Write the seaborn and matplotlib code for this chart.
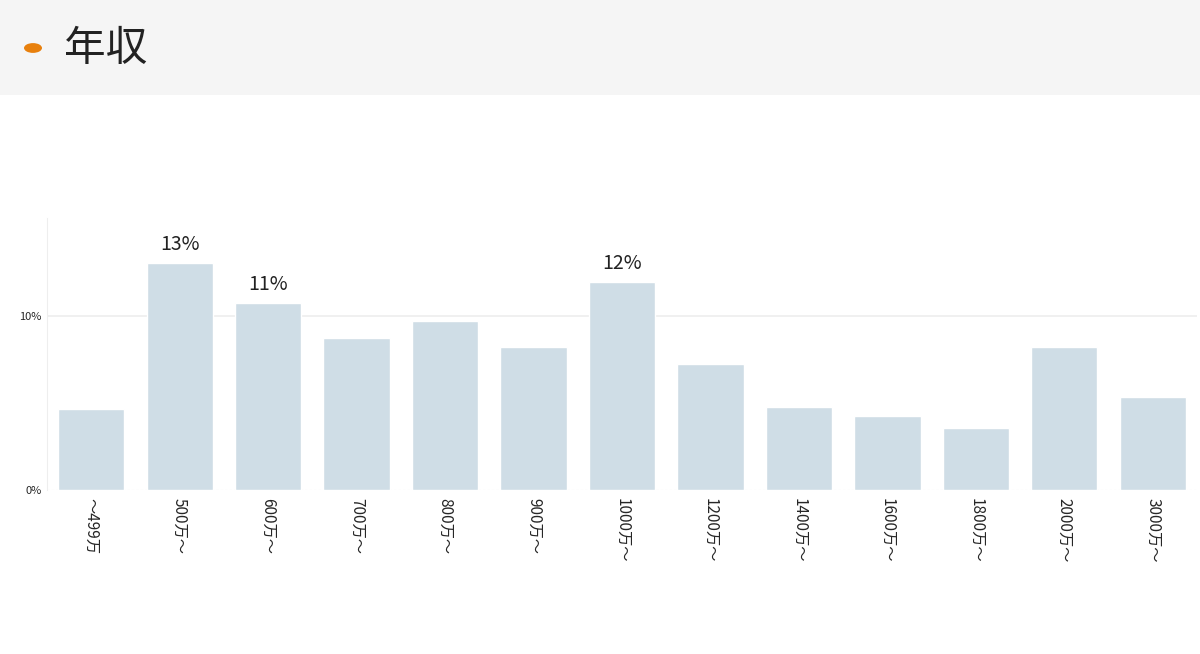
import matplotlib
matplotlib.use("Agg")
import matplotlib.pyplot as plt
import seaborn as sns
import pandas as pd
from matplotlib.patches import Rectangle

categories = ["～499万", "500万～", "600万～", "700万～", "800万～", "900万～", "1000万～",
              "1200万～", "1400万～", "1600万～", "1800万～", "2000万～", "3000万～"]
values = [4.66, 13.0, 10.75, 8.74, 9.71, 8.22, 11.95, 7.24, 4.77, 4.25, 3.56, 8.22, 5.34]
labeled = {"500万～": "13%", "600万～": "11%", "1000万～": "12%"}
yticks = [0, 10]
ytick_labels = ["0%", "10%"]

sns.set_style("white")
plt.rcParams['font.family'] = ['Noto Sans CJK JP', 'DejaVu Sans']

fig = plt.figure(figsize=(12, 6.54), dpi=100)
fig.patches.append(Rectangle((0, 1 - 95 / 654), 1, 95 / 654, transform=fig.transFigure,
                             facecolor="#f5f5f5", edgecolor="none", zorder=0))
fig.patches.append(plt.Circle((33 / 1200, 1 - 48 / 654), 0.0075, transform=fig.transFigure,
                              facecolor="#e8800d", edgecolor="none"))
fig.text(64 / 1200, 1 - 50 / 654, "年収", fontsize=30, va="center", ha="left", color="#222222")

ax = fig.add_axes([47 / 1200, 1 - 490 / 654, 1150 / 1200, 272 / 654])
df = pd.DataFrame({"cat": categories, "val": values})
sns.barplot(data=df, x="cat", y="val", color="#cfdde6", saturation=1, width=0.75, ax=ax, zorder=2)
ax.set_ylim(0, 15.6)
ax.set_xlim(-0.5, len(categories) - 0.5)
ax.set_yticks(yticks)
ax.set_yticklabels(ytick_labels, fontsize=8)
ax.axhline(10, color="#eeeeee", lw=1.2, zorder=1)
ax.axhline(0, color="#dddddd", lw=0.8, ls=(0, (2, 2)), zorder=1)
ax.set_xlabel("")
ax.set_ylabel("")
for s in ["top", "right", "bottom"]:
    ax.spines[s].set_visible(False)
ax.spines["left"].set_color("#eeeeee")
ax.tick_params(axis="x", rotation=270, labelsize=11, length=0, pad=6)
ax.tick_params(axis="y", length=0, pad=4)
for i, (c, v) in enumerate(zip(categories, values)):
    if c in labeled:
        ax.text(i, v + 0.45, labeled[c], ha="center", va="bottom", fontsize=14, color="#222222")

fig.savefig("out.png", dpi=100)
